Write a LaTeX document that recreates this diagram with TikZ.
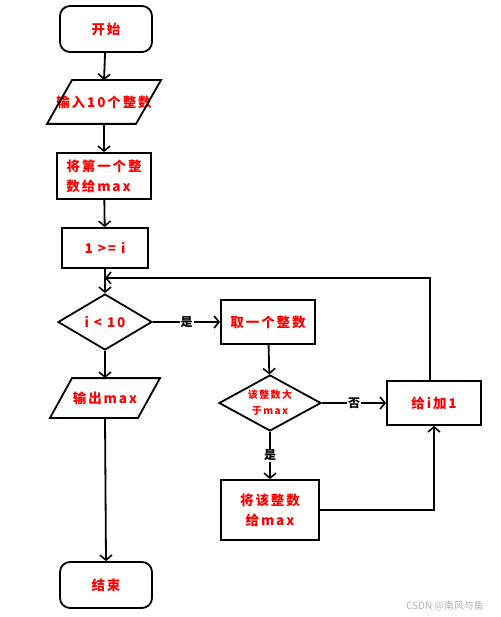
\documentclass[tikz,border=0pt]{standalone}
\usepackage{fontspec}
\newfontfamily\cjk{Noto Sans CJK SC}[LetterSpace=14]
\newfontfamily\cjkplain{Noto Sans CJK SC}
\usetikzlibrary{arrows.meta,shapes.geometric}
\begin{document}
\begin{tikzpicture}[x=1pt,y=-1pt,line width=1.8pt,
  >={Straight Barb[length=5pt,width=12pt,line width=1.6pt]},
  lbl/.style={text=red,font=\cjk\bfseries\fontsize{13.5}{20}\selectfont,align=center,inner sep=0pt},
  term/.style={lbl,draw,rounded corners=10pt},
  proc/.style={lbl,draw},
  dec/.style={lbl,draw,diamond,aspect=1.7},
  para/.style={lbl},
  yn/.style={fill=white,inner sep=1pt,font=\cjkplain\bfseries\fontsize{12}{12}\selectfont}]
\useasboundingbox (0,0) rectangle (500,617);
% nodes
\node[term,minimum width=92pt,minimum height=46pt] (start) at (106,29) {开始};
\node[para,minimum width=90pt,minimum height=42pt] (in) at (104,102) {输入10个整数};
\draw ([xshift=-32pt]in.north) -- ([xshift=57pt]in.north) -- ([xshift=32pt]in.south) -- ([xshift=-57pt]in.south) -- cycle;
\node[proc,minimum width=94pt,minimum height=46pt,align=left] (first) at (104,176) {将第一个整\\数给max};
\node[proc,minimum width=86pt,minimum height=40pt] (init) at (105,248) {1 >= i};
\node[dec,minimum width=94pt,minimum height=56pt] (cond) at (105,322) {i < 10};
\node[para,minimum width=88pt,minimum height=38pt] (out) at (105,398) {输出max};
\draw ([xshift=-33pt]out.north) -- ([xshift=55pt]out.north) -- ([xshift=33pt]out.south) -- ([xshift=-55pt]out.south) -- cycle;
\node[term,minimum width=92pt,minimum height=46pt] (end) at (106,585) {结束};
\node[proc,minimum width=94pt,minimum height=44pt] (take) at (268,322) {取一个整数};
\node[dec,minimum width=102pt,minimum height=56pt,font=\cjk\bfseries\fontsize{10}{16}\selectfont] (cmp) at (270,403) {该整数大\\于max};
\node[proc,minimum width=98pt,minimum height=60pt] (assign) at (270,510) {将该整数\\给max};
\node[proc,minimum width=94pt,minimum height=44pt] (inc) at (434,403) {给i加1};
\coordinate (loop) at (105,278);
\node[text=gray!60,font=\cjkplain\fontsize{10}{10}\selectfont,inner sep=0pt] (wm) at (445,606) {CSDN @南风与鱼};
% connectors
\draw[->] (start) -- (in.north);
\draw[->] (in.south) -- (first);
\draw[->] (first) -- (init);
\draw[->] (init) -- (cond);
\draw[->] (cond.east) -- node[yn,pos=0.5]{是} (take.west);
\draw[->] (cond.south) -- (out.north);
\draw[->] (out.south) -- (end.north);
\draw[->] (take) -- (cmp);
\draw[->] (cmp.east) -- node[yn,pos=0.5]{否} (inc.west);
\draw[->] (cmp.south) -- node[yn,pos=0.5]{是} (assign.north);
\draw[->] (assign.east) -| (inc.south);
\draw[->] ([xshift=-4pt]inc.north) |- (loop);
\end{tikzpicture}
\end{document}
